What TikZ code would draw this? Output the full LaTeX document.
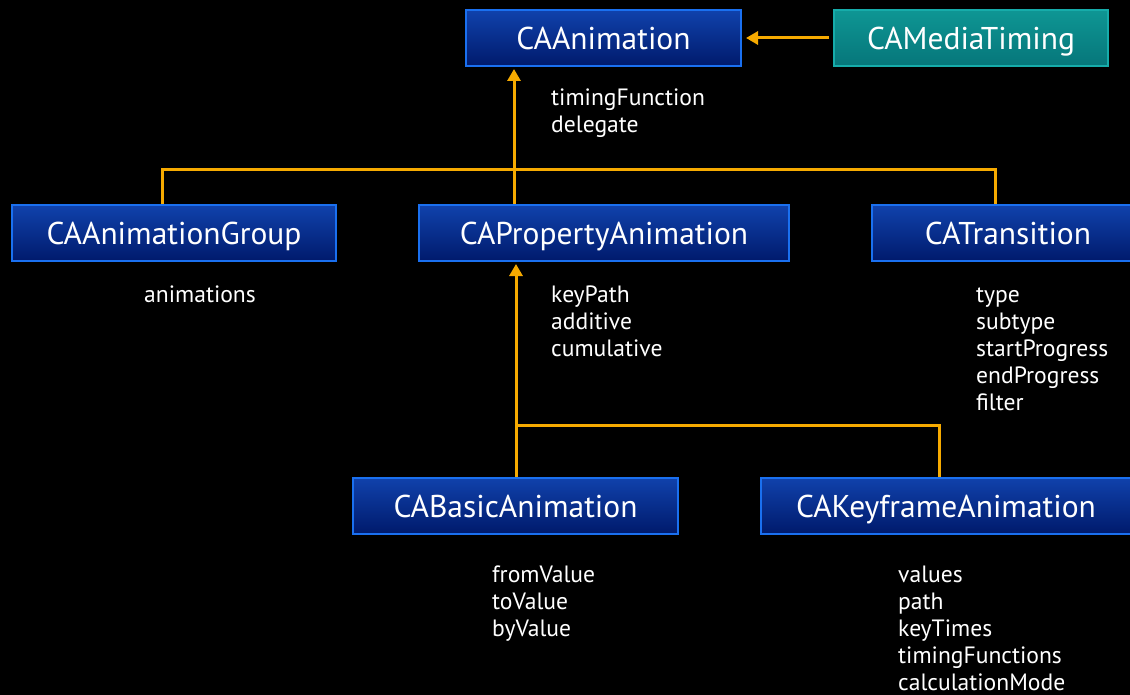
\documentclass[tikz,border=0pt]{standalone}
\usepackage{fontspec}
\setmainfont{PT Sans}
\usetikzlibrary{arrows.meta}

\definecolor{boxtop}{RGB}{16,66,172}
\definecolor{boxbot}{RGB}{0,26,108}
\definecolor{boxedge}{RGB}{26,112,240}
\definecolor{tealtop}{RGB}{14,150,148}
\definecolor{tealbot}{RGB}{6,118,122}
\definecolor{tealedge}{RGB}{22,172,170}
\definecolor{link}{RGB}{246,170,0}

\tikzset{
  classbox/.style={draw=boxedge, line width=2pt, top color=boxtop, bottom color=boxbot,
    minimum height=56pt, inner sep=0pt, text=white,
    text height=24pt, text depth=0pt,
    font=\fontsize{31.5}{31.5}\selectfont},
  protobox/.style={classbox, draw=tealedge, top color=tealtop, bottom color=tealbot},
  link/.style={draw=link, line width=3pt},
  inherit/.style={link, -{Triangle[width=13pt,length=12pt]}},
  member/.style={anchor=base west, inner sep=0pt, text=white,
    font=\fontsize{23.6}{23.6}\selectfont}
}

\begin{document}
\begin{tikzpicture}[x=1pt, y=-1pt]
  % canvas
  \fill[black] (0,0) rectangle (1130,695);
  \useasboundingbox (0,0) rectangle (1130,695);

  % class boxes
  \node[classbox, minimum width=275pt] (anim) at (603.5,38) {CAAnimation};
  \node[protobox, minimum width=274pt] (timing) at (971,38) {CAMediaTiming};
  \node[classbox, minimum width=324pt] (group) at (174,233) {CAAnimationGroup};
  \node[classbox, minimum width=370pt] (prop) at (604,233) {CAPropertyAnimation};
  \node[classbox, minimum width=272pt] (trans) at (1008,233) {CATransition};
  \node[classbox, minimum width=325pt] (basic) at (515.5,505.5) {CABasicAnimation};
  \node[classbox, minimum width=370pt] (keyf) at (946,505.5) {CAKeyframeAnimation};

  % junction points of the inheritance tree
  \coordinate (tl) at (162,170);
  \coordinate (tm) at (514,170);
  \coordinate (tr) at (995,170);
  \coordinate (bm) at (516,425);
  \coordinate (br) at (939,425);

  % protocol adoption
  \draw[inherit, shorten <=4pt, shorten >=4pt] (timing.west) -- (anim.east);

  % subclasses of CAAnimation
  \draw[link] (group.north -| tl) -- (tl) -- (tr) -- (trans.north -| tr);
  \draw[link] (prop.north -| tm) -- (tm);
  \draw[inherit, shorten >=2pt] (tm) -- (anim.south -| tm);

  % subclasses of CAPropertyAnimation
  \draw[link] (basic.north -| bm) -- (bm) -- (br) -- (keyf.north -| br);
  \draw[inherit, shorten >=2pt] (bm) -- (prop.south -| bm);

  % properties of each class
  \foreach \t [count=\i] in {timingFunction, delegate}
    \node[member] (anim-p\i) at (551, 106+27*\i-27) {\t};
  \node[member] (group-p1) at (144, 302) {animations};
  \foreach \t [count=\i] in {keyPath, additive, cumulative}
    \node[member] (prop-p\i) at (551, 302+27*\i-27) {\t};
  \foreach \t [count=\i] in {type, subtype, startProgress, endProgress, filter}
    \node[member] (trans-p\i) at (976, 302+27*\i-27) {\t};
  \foreach \t [count=\i] in {fromValue, toValue, byValue}
    \node[member] (basic-p\i) at (492, 582+27*\i-27) {\t};
  \foreach \t [count=\i] in {values, path, keyTimes, timingFunctions, calculationMode}
    \node[member] (keyf-p\i) at (898, 582+27*\i-27) {\t};
\end{tikzpicture}
\end{document}
